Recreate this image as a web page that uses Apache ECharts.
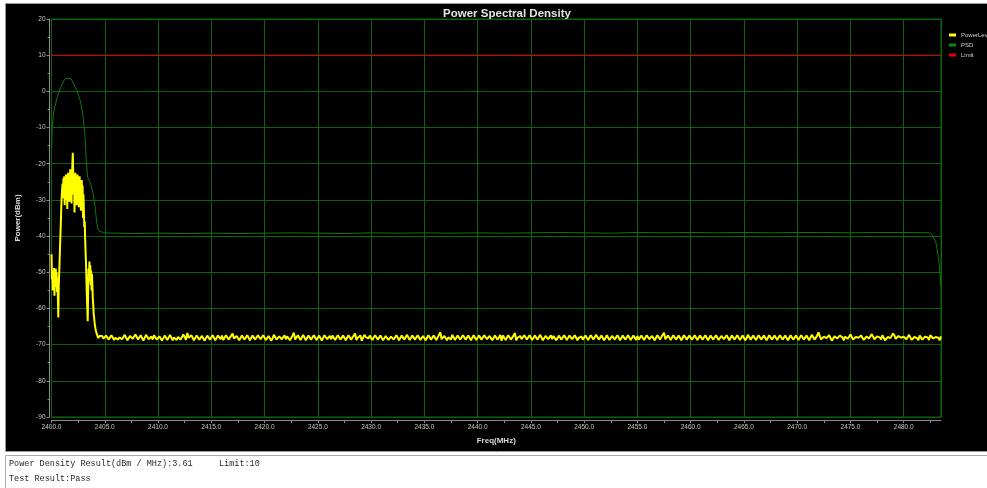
<!DOCTYPE html>
<html>
<head>
<meta charset="utf-8">
<title>Power Spectral Density</title>
<script src="https://cdn.jsdelivr.net/npm/echarts@6/dist/echarts.min.js"></script>
<style>
  html, body { margin: 0; padding: 0; background: #ffffff; }
  #chart { width: 987px; height: 488px; }
</style>
</head>
<body>
<div id="chart"></div>
<script>
// Frequency axis (MHz) and power axis (dBm)
const freqMin = 2400;
const freqMax = 2483.5;
const freqStep = 5;
const powerMin = -90;
const powerMax = 20;
const powerStep = 10;

const limitLevel = 10;
const resultDensity = 3.61;
const resultText = 'Pass';

// Power level trace around the occupied channel: [MHz, dBm]
const levelPeak = [
  [2400.00, -45.0], [2400.04, -52.0], [2400.08, -49.5], [2400.12, -55.0], [2400.16, -50.0],
  [2400.20, -53.5], [2400.24, -48.8], [2400.28, -56.5], [2400.32, -51.0], [2400.36, -54.0],
  [2400.40, -49.0], [2400.44, -52.5], [2400.48, -50.0], [2400.52, -55.5], [2400.56, -51.5],
  [2400.60, -57.0], [2400.64, -62.5], [2400.68, -54.0], [2400.72, -50.5], [2400.76, -47.0],
  [2400.80, -43.0], [2400.84, -39.5], [2400.88, -36.0], [2400.92, -32.0], [2400.96, -29.0],
  [2401.00, -27.0], [2401.04, -25.5], [2401.08, -29.5], [2401.12, -24.0], [2401.16, -27.5],
  [2401.20, -23.5], [2401.24, -31.5], [2401.28, -25.0], [2401.32, -28.0], [2401.36, -23.0],
  [2401.40, -30.0], [2401.44, -24.5], [2401.48, -32.5], [2401.52, -26.0], [2401.56, -22.5],
  [2401.60, -28.5], [2401.64, -24.0], [2401.68, -30.5], [2401.72, -25.5], [2401.76, -21.5],
  [2401.80, -27.0], [2401.84, -23.5], [2401.88, -31.0], [2401.92, -24.5], [2401.96, -20.0],
  [2402.00, -17.0], [2402.04, -23.0], [2402.08, -28.5], [2402.12, -24.0], [2402.16, -33.5],
  [2402.20, -26.0], [2402.24, -22.5], [2402.28, -29.0], [2402.32, -24.5], [2402.36, -31.5],
  [2402.40, -25.0], [2402.44, -23.0], [2402.48, -28.0], [2402.52, -24.0], [2402.56, -32.0],
  [2402.60, -26.5], [2402.64, -23.5], [2402.68, -29.5], [2402.72, -25.0], [2402.76, -33.0],
  [2402.80, -27.0], [2402.84, -24.5], [2402.88, -30.0], [2402.92, -26.0], [2402.96, -35.0],
  [2403.00, -28.5], [2403.04, -33.0], [2403.08, -37.5], [2403.12, -36.0], [2403.16, -41.0],
  [2403.20, -44.5], [2403.24, -47.5], [2403.28, -52.0], [2403.32, -56.5], [2403.36, -60.0],
  [2403.40, -63.5], [2403.44, -55.0], [2403.48, -49.0], [2403.52, -52.5], [2403.56, -47.0],
  [2403.60, -51.0], [2403.64, -48.0], [2403.68, -53.5], [2403.72, -49.5], [2403.76, -55.0],
  [2403.80, -50.5], [2403.84, -54.0], [2403.88, -57.5], [2403.92, -59.0], [2403.96, -61.5],
  [2404.00, -62.5], [2404.05, -64.0], [2404.10, -65.0], [2404.15, -66.0], [2404.20, -66.5],
  [2404.30, -67.5], [2404.40, -68.2], [2404.50, -67.6]
];

// Noise floor of the power level trace, one reading every 0.25 MHz from 2404.75 MHz
const floorStart = 2404.75;
const floorStep = 0.25;
const levelFloor = [
  -67.6,-68.4,-67.9,-68.8,-67.3,-68.1,-68.6,-67.7,-68.3,-67.2,-68.5,-67.9,-68.9,-67.5,-68.2,-67.8,-68.7,-67.4,-68.0,-68.6,
  -67.3,-68.2,-67.8,-69.1,-67.6,-68.4,-67.1,-68.0,-68.7,-67.5,-68.3,-67.9,-66.8,-68.5,-67.7,-68.9,-67.4,-68.1,-67.6,-68.8,
  -67.9,-68.3,-67.2,-68.6,-68.0,-67.5,-68.8,-67.7,-68.2,-66.9,-68.4,-67.8,-69.0,-67.4,-68.1,-67.6,-68.5,-67.3,-68.7,-67.9,
  -68.2,-67.5,-68.6,-67.8,-68.3,-67.1,-68.9,-67.6,-68.0,-68.5,-67.4,-68.2,-66.7,-68.4,-67.9,-68.8,-67.5,-68.1,-67.7,-68.6,
  -67.4,-68.3,-67.9,-68.7,-67.2,-68.0,-68.5,-67.6,-68.9,-67.8,-68.2,-67.3,-68.6,-67.7,-68.4,-66.9,-68.1,-67.5,-68.8,-67.9,
  -68.3,-67.6,-68.0,-67.2,-68.7,-67.8,-68.4,-67.5,-69.2,-67.9,-68.1,-67.4,-68.6,-67.7,-68.3,-67.1,-68.8,-67.6,-68.2,-67.9,
  -68.5,-67.3,-68.1,-67.8,-68.9,-67.5,-68.2,-66.6,-68.4,-67.7,-68.0,-68.6,-67.4,-68.3,-67.9,-68.8,-67.2,-68.1,-67.6,-68.5,
  -67.8,-68.2,-67.4,-68.7,-67.9,-68.3,-67.1,-68.6,-67.7,-68.0,-68.9,-67.5,-68.2,-67.8,-68.4,-66.8,-68.1,-67.6,-68.7,-67.9,
  -68.1,-67.5,-68.6,-67.9,-68.3,-67.2,-68.8,-67.7,-68.0,-68.5,-67.4,-68.2,-67.8,-69.0,-67.6,-68.3,-67.9,-68.6,-67.3,-68.1,
  -67.7,-68.4,-67.9,-68.8,-67.5,-68.1,-66.9,-68.5,-67.8,-68.2,-67.4,-68.7,-67.9,-68.3,-67.6,-68.9,-67.2,-68.0,-67.7,-68.5,
  -68.0,-67.6,-68.4,-67.3,-68.7,-67.9,-68.2,-67.5,-68.8,-67.7,-68.1,-66.7,-68.4,-67.8,-68.6,-67.4,-68.2,-67.9,-68.9,-67.6,
  -68.3,-67.8,-68.0,-67.4,-68.6,-67.7,-68.3,-67.1,-68.8,-67.9,-68.2,-67.5,-68.5,-67.8,-68.0,-67.3,-68.7,-67.6,-68.1,-67.9,
  -68.4,-67.6,-68.2,-66.8,-68.5,-67.9,-68.1,-67.5,-68.9,-67.7,-68.3,-67.4,-68.6,-67.8,-68.0,-67.2,-68.7,-67.9,-68.2,-67.5,
  -68.6,-67.7,-68.0,-67.3,-68.8,-67.9,-68.4,-67.6,-68.1,-66.6,-68.5,-67.8,-68.2,-67.4,-68.9,-67.7,-68.3,-67.5,-68.0,-67.8,
  -68.4,-67.2,-68.6,-67.9,-68.1,-67.5,-68.7,-67.8,-68.3,-67.1,-68.5,-67.7,-68.0,-67.4,-68.8,-67.9,-68.2,-66.9,-68.4,-67.6,
  -68.1,-67.8,-68.5,-67.3,-68.7,-67.9,-68.2,-67.5,-68.6,-67.8,-68.0,-67.4,-68.3,-67.9,-68.1,-67.7
];
// Readings between the ones above, every 0.25 MHz from 2404.875 MHz
const floorMidStart = 2404.875;
const levelFloorMid = [
  -68.3,-67.5,-68.6,-67.4,-68.7,-67.6,-68.0,-68.5,-67.3,-68.8,-67.6,-68.4,-67.2,-68.6,-67.4,-68.9,-67.3,-68.5,-67.7,-67.4,
  -68.6,-67.7,-68.9,-67.5,-68.7,-67.3,-68.8,-67.6,-67.9,-68.6,-67.2,-68.7,-68.1,-67.4,-68.8,-67.5,-68.6,-67.6,-68.9,-67.5,
  -68.6,-67.4,-68.8,-67.5,-68.5,-68.7,-67.4,-68.6,-67.5,-68.3,-67.6,-68.8,-67.5,-68.6,-67.4,-68.8,-67.5,-68.6,-67.4,-68.5,
  -67.4,-68.7,-67.6,-68.9,-67.3,-68.6,-67.7,-68.5,-67.4,-67.7,-68.8,-67.5,-68.6,-67.4,-68.7,-67.3,-68.8,-67.5,-68.6,-67.4,
  -68.7,-67.5,-68.9,-67.4,-68.5,-67.6,-67.5,-68.7,-67.4,-68.6,-67.5,-68.8,-67.4,-68.6,-67.5,-68.7,-67.6,-68.9,-67.3,-68.4,
  -67.5,-68.7,-67.4,-68.6,-67.5,-68.8,-67.6,-68.7,-67.8,-68.6,-67.4,-68.8,-67.5,-68.6,-67.3,-68.7,-67.5,-68.6,-67.4,-68.7,
  -67.6,-68.8,-67.4,-68.6,-67.5,-68.7,-67.3,-68.5,-67.6,-68.8,-67.5,-67.3,-68.7,-67.5,-68.6,-67.4,-68.6,-67.5,-68.8,-67.4,
  -68.7,-67.5,-68.6,-67.4,-68.5,-67.6,-68.8,-67.5,-68.6,-67.3,-67.5,-68.7,-67.4,-68.6,-67.5,-68.8,-67.6,-68.5,-67.4,-68.6,
  -67.4,-68.7,-67.5,-68.6,-67.3,-68.8,-67.6,-68.5,-67.4,-67.6,-68.8,-67.5,-68.6,-67.4,-68.7,-67.5,-68.5,-67.4,-68.8,-67.6,
  -68.6,-67.5,-68.7,-67.4,-68.6,-67.3,-68.6,-67.5,-68.8,-67.4,-68.7,-67.6,-68.6,-67.4,-68.8,-67.5,-68.6,-67.4,-68.7,-67.5,
  -68.7,-68.6,-67.5,-68.7,-67.4,-68.5,-67.6,-68.8,-67.4,-68.6,-67.3,-68.5,-67.5,-68.7,-67.4,-68.6,-67.5,-68.8,-67.4,-68.6,
  -67.5,-68.6,-67.4,-68.7,-67.5,-68.6,-67.4,-68.8,-67.5,-68.6,-67.4,-68.7,-67.6,-68.5,-67.4,-68.8,-67.5,-68.6,-67.4,-68.7,
  -67.5,-68.8,-67.3,-68.6,-67.5,-68.7,-67.4,-68.6,-67.5,-68.8,-67.4,-68.6,-67.5,-68.7,-67.4,-68.6,-67.5,-68.8,-67.4,-68.6,
  -67.5,-68.7,-67.4,-68.6,-67.5,-68.8,-67.3,-68.6,-67.5,-67.7,-68.8,-67.4,-68.6,-67.5,-68.7,-67.4,-68.6,-67.5,-68.8,-67.4,
  -68.6,-67.5,-68.7,-67.4,-68.6,-67.5,-68.8,-67.4,-68.6,-67.5,-68.7,-67.4,-68.6,-67.5,-68.8,-67.4,-68.6,-67.5,-68.7,-67.4,
  -68.6,-67.5,-68.7,-67.4,-68.6,-67.5,-68.8,-67.4,-68.6,-67.5,-68.7,-67.4,-68.6,-67.5,-68.8
];

// Power spectral density trace: [MHz, dBm]
const psdTrace = [
  [2400.00, -16.0], [2400.07, -10.0], [2400.22, -5.4], [2400.53, -1.7], [2400.84, 1.0],
  [2401.15, 2.9], [2401.31, 3.5], [2401.50, 3.61], [2401.84, 3.5], [2402.08, 2.0],
  [2402.40, 0.1], [2402.71, -2.6], [2402.90, -5.5], [2403.01, -8.5], [2403.10, -11.0],
  [2403.17, -13.7], [2403.26, -19.2], [2403.39, -23.8], [2403.64, -25.2], [2403.89, -28.0],
  [2404.10, -32.1], [2404.26, -36.7], [2404.41, -38.5], [2404.88, -39.1],
  [2407.5, -39.3], [2410, -39.2], [2412.5, -39.3], [2415, -39.2], [2417.5, -39.3],
  [2420, -39.2], [2422.5, -39.1], [2425, -39.2], [2427.5, -39.3], [2430, -39.1],
  [2432.5, -39.2], [2435, -39.1], [2437.5, -39.2], [2440, -39.1], [2442.5, -39.2],
  [2445, -39.1], [2447.5, -39.0], [2450, -39.1], [2452.5, -39.2], [2455, -39.0],
  [2457.5, -39.1], [2460, -39.0], [2462.5, -39.1], [2465, -39.0], [2467.5, -39.1],
  [2470, -39.0], [2472.5, -39.0], [2475, -39.1], [2477.5, -39.0], [2480, -39.0],
  [2482.4, -39.1], [2482.75, -39.9], [2483.05, -42.1], [2483.2, -44.8], [2483.35, -48.5],
  [2483.5, -54.0]
];

// Assemble the power level series: channel part, then the floor readings interleaved
const levelData = levelPeak.slice();
levelFloor.forEach(function (v, i) {
  levelData.push([+(floorStart + i * floorStep).toFixed(3), v]);
  if (i < levelFloorMid.length) {
    levelData.push([+(floorMidStart + i * floorStep).toFixed(3), levelFloorMid[i]]);
  }
});

const gridGreen = '#0c640c';
const axisGrey = '#8a8a8a';
const labelGrey = '#c8c8c8';
const sansFont = 'Liberation Sans, Arial, sans-serif';
const monoFont = '8.5px "Liberation Mono", monospace';

const chart = echarts.init(document.getElementById('chart'), null, { renderer: 'canvas' });

chart.setOption({
  animation: false,
  backgroundColor: '#ffffff',
  graphic: {
    elements: [
      {
        type: 'rect', z: -100, silent: true,
        shape: { x: 5.5, y: 3.5, width: 990, height: 448 },
        style: { fill: '#000000', stroke: '#9c9c9c', lineWidth: 1 }
      },
      {
        type: 'rect', z: -100, silent: true,
        shape: { x: 5.5, y: 455.5, width: 990, height: 40 },
        style: { fill: '#ffffff', stroke: '#a8a8a8', lineWidth: 1 }
      },
      {
        type: 'text', left: 9, top: 459,
        style: { text: 'Power Density Result(dBm / MHz):' + resultDensity, fill: '#2a2a2a', font: monoFont }
      },
      {
        type: 'text', left: 219, top: 459,
        style: { text: 'Limit:' + limitLevel, fill: '#2a2a2a', font: monoFont }
      },
      {
        type: 'text', left: 9, top: 474,
        style: { text: 'Test Result:' + resultText, fill: '#2a2a2a', font: monoFont }
      }
    ]
  },
  title: {
    text: 'Power Spectral Density',
    left: 502, top: 3, textAlign: 'center',
    textStyle: { color: '#e4e4e4', fontSize: 11.5, fontWeight: 'bold', fontFamily: sansFont }
  },
  legend: {
    orient: 'vertical',
    left: 944, top: 27,
    itemWidth: 7, itemHeight: 3, itemGap: 4,
    icon: 'rect',
    data: ['PowerLevel', 'PSD', 'Limit'],
    textStyle: {
      color: '#d4d4d4', fontSize: 6, fontFamily: sansFont,
      width: 28, overflow: 'truncate', ellipsis: ''
    }
  },
  grid: {
    left: 51.5, right: 46, top: 19, bottom: 71,
    show: true, borderColor: gridGreen, borderWidth: 1, backgroundColor: 'transparent'
  },
  xAxis: [
    {
      // visible frequency scale: ticks every 2.5 MHz, labels every 5 MHz
      type: 'value',
      min: freqMin, max: freqMax, interval: freqStep / 2,
      offset: 3,
      name: 'Freq(MHz)', nameLocation: 'middle', nameGap: 17,
      nameTextStyle: { color: '#dcdcdc', fontSize: 8, fontWeight: 'bold', fontFamily: sansFont },
      axisLine: { onZero: false, lineStyle: { color: axisGrey, width: 1 } },
      axisTick: { show: true, length: 3, lineStyle: { color: axisGrey } },
      axisLabel: {
        formatter: function (v) {
          return Math.abs(v % freqStep) < 1e-6 ? v.toFixed(1) : '';
        },
        showMaxLabel: false,
        color: labelGrey, fontSize: 6.5, margin: 4, fontFamily: sansFont
      },
      splitLine: { show: false }
    },
    {
      // grid lines every 5 MHz
      type: 'value',
      min: freqMin, max: freqMax, interval: freqStep,
      axisLine: { show: false, onZero: false },
      axisTick: { show: false },
      axisLabel: { show: false },
      splitLine: { show: true, lineStyle: { color: gridGreen, width: 1 } }
    }
  ],
  yAxis: {
    type: 'value',
    min: powerMin, max: powerMax, interval: powerStep,
    offset: 2,
    name: 'Power(dBm)', nameLocation: 'middle', nameGap: 28, nameRotate: 90,
    nameTextStyle: { color: '#dcdcdc', fontSize: 8, fontWeight: 'bold', fontFamily: sansFont },
    axisLine: { show: true, onZero: false, lineStyle: { color: axisGrey, width: 1 } },
    axisTick: { show: true, length: 3, lineStyle: { color: axisGrey } },
    minorTick: { show: true, splitNumber: 2, length: 2, lineStyle: { color: axisGrey } },
    axisLabel: { color: labelGrey, fontSize: 6.5, margin: 4, fontFamily: sansFont },
    splitLine: { show: true, lineStyle: { color: gridGreen, width: 1 } }
  },
  series: [
    {
      name: 'Limit', type: 'line', showSymbol: false, silent: true,
      color: '#e00000', lineStyle: { width: 1, color: '#e00000' },
      data: [[freqMin, limitLevel], [freqMax, limitLevel]]
    },
    {
      name: 'PSD', type: 'line', showSymbol: false, silent: true,
      color: '#0a8a0a', lineStyle: { width: 1, color: '#0e760e' },
      data: psdTrace
    },
    {
      name: 'PowerLevel', type: 'line', showSymbol: false, silent: true,
      color: '#ffff00', lineStyle: { width: 2, color: '#ffff00' },
      data: levelData
    }
  ]
});
</script>
</body>
</html>
